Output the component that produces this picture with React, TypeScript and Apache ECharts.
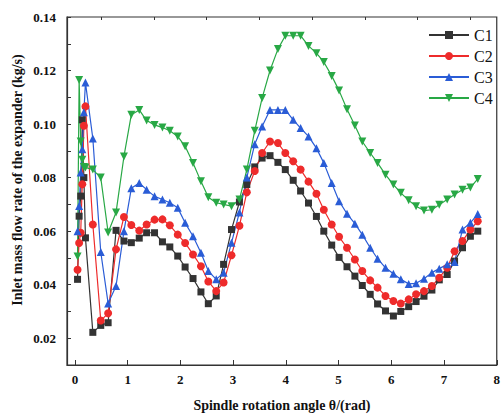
import React, { useEffect, useRef } from "react";
import * as echarts from "echarts";

// Spindle rotation angle θ (rad)
const angle = [
  0.05, 0.08, 0.11, 0.14, 0.17, 0.2, 0.34, 0.49, 0.63, 0.78, 0.93, 1.07, 1.22, 1.36, 1.51,
  1.66, 1.8, 1.95, 2.09, 2.24, 2.39, 2.53, 2.68, 2.82, 2.97, 3.12, 3.26, 3.41, 3.55, 3.7,
  3.85, 3.99, 4.14, 4.28, 4.43, 4.58, 4.72, 4.87, 5.01, 5.16, 5.31, 5.45, 5.6, 5.74, 5.89,
  6.04, 6.18, 6.33, 6.47, 6.62, 6.77, 6.91, 7.06, 7.2, 7.35, 7.5, 7.64,
];

const c1 = [
  0.042, 0.0656, 0.0731, 0.1016, 0.08, 0.0575, 0.0222, 0.0248, 0.0258, 0.0603, 0.0563, 0.0557,
  0.0574, 0.0594, 0.0594, 0.056, 0.0541, 0.0507, 0.0466, 0.0423, 0.0373, 0.0329, 0.0358, 0.0476,
  0.0606, 0.0709, 0.0774, 0.084, 0.0873, 0.0882, 0.0857, 0.083, 0.079, 0.075, 0.0705, 0.0655,
  0.06, 0.0548, 0.0502, 0.0467, 0.0432, 0.0397, 0.0364, 0.0328, 0.0302, 0.0283, 0.03, 0.0318,
  0.0337, 0.0357, 0.038, 0.0418, 0.0438, 0.0488, 0.0538, 0.0581, 0.06,
];

const c2 = [
  0.0456, 0.0556, 0.0594, 0.0775, 0.0994, 0.1066, 0.0625, 0.0266, 0.0293, 0.0532, 0.0653, 0.0623,
  0.0602, 0.0625, 0.0643, 0.0644, 0.0622, 0.0587, 0.0556, 0.0513, 0.0469, 0.0412, 0.0376, 0.0408,
  0.051, 0.062, 0.0745, 0.0825, 0.0892, 0.0935, 0.0929, 0.0892, 0.0861, 0.083, 0.0785, 0.074,
  0.068, 0.0625, 0.0579, 0.0538, 0.0494, 0.0451, 0.0416, 0.0389, 0.0358, 0.0339, 0.033, 0.0345,
  0.0364, 0.0376, 0.0395, 0.0426, 0.0463, 0.0525, 0.0563, 0.0606, 0.0637,
];

const c3 = [
  0.06, 0.0694, 0.0819, 0.0906, 0.1044, 0.1155, 0.0946, 0.0522, 0.033, 0.0395, 0.06, 0.076,
  0.078, 0.0755, 0.073, 0.0718, 0.0706, 0.0687, 0.0631, 0.0581, 0.0519, 0.0451, 0.042, 0.0445,
  0.0557, 0.067, 0.08, 0.0925, 0.0991, 0.1053, 0.1053, 0.1053, 0.1016, 0.0985, 0.0954, 0.091,
  0.0855, 0.078, 0.0712, 0.0665, 0.0628, 0.0587, 0.0538, 0.0497, 0.0463, 0.0441, 0.042, 0.0403,
  0.0405, 0.0422, 0.0445, 0.046, 0.0476, 0.0485, 0.0606, 0.0631, 0.0664,
];

const c4 = [
  0.0505, 0.1165, 0.0935, 0.0867, 0.084, 0.0838, 0.083, 0.08, 0.0595, 0.067, 0.0879, 0.1035,
  0.1053, 0.1013, 0.0997, 0.0987, 0.0975, 0.0954, 0.0917, 0.0855, 0.0786, 0.0727, 0.0706, 0.07,
  0.0693, 0.0718, 0.083, 0.0975, 0.1097, 0.12, 0.128, 0.133, 0.133, 0.133, 0.1292, 0.1265,
  0.1232, 0.118, 0.1125, 0.1055, 0.0995, 0.0935, 0.0892, 0.0855, 0.0811, 0.0774, 0.0743, 0.0715,
  0.0693, 0.0677, 0.068, 0.0699, 0.0718, 0.0737, 0.0755, 0.0763, 0.0795,
];

const seriesNames = ["C1", "C2", "C3", "C4"];
const xMajorTicks = [0, 1, 2, 3, 4, 5, 6, 7, 8];
const xMinorTicks = [0.5, 1.5, 2.5, 3.5, 4.5, 5.5, 6.5, 7.5];
const yMajorTicks = [0.02, 0.04, 0.06, 0.08, 0.1, 0.12, 0.14];
const yAllTicks = [0.02, 0.03, 0.04, 0.05, 0.06, 0.07, 0.08, 0.09, 0.1, 0.11, 0.12, 0.13, 0.14];

const FONT = "'Times New Roman', 'Liberation Serif', serif";

export default function App() {
  const ref = useRef<HTMLDivElement>(null);
  useEffect(() => {
    if (!ref.current) return;
    const chart = echarts.init(ref.current, undefined, { renderer: "svg" });
    const values = [c1, c2, c3, c4];
    const colors = ["#333333", "#ee2b2b", "#2a5cd6", "#28a845"];
    const symbols = ["rect", "circle", "triangle", "triangle"];
    const rotations = [0, 0, 0, 180];
    const sizes = [7, 8, 8, 8];
    const axisColor = "#333";
    chart.setOption({
      animation: false,
      backgroundColor: "#fff",
      grid: { left: 67, right: 4, top: 17, bottom: 54, show: true, borderColor: axisColor, borderWidth: 1.2, backgroundColor: "transparent" },
      legend: {
        orient: "vertical",
        left: 423,
        top: 22,
        itemWidth: 40,
        itemHeight: 10,
        itemGap: 5,
        data: seriesNames,
        textStyle: { fontFamily: FONT, fontSize: 16, color: "#111", lineHeight: 16 },
      },
      xAxis: [
        {
          type: "value",
          min: -0.15,
          max: 8,
          axisLine: { onZero: false, lineStyle: { color: axisColor, width: 1.2 } },
          axisTick: { inside: true, length: 5, customValues: xMajorTicks, lineStyle: { color: axisColor } },
          axisLabel: {
            customValues: xMajorTicks,
            fontFamily: FONT,
            fontWeight: "bold",
            fontSize: 13,
            color: "#111",
            margin: 8,
          },
          splitLine: { show: false },
          name: "Spindle rotation angle θ/(rad)",
          nameLocation: "middle",
          nameGap: 33,
          nameTextStyle: { fontFamily: FONT, fontWeight: "bold", fontSize: 14, color: "#111" },
        },
        {
          type: "value",
          min: -0.15,
          max: 8,
          axisLine: { show: false, onZero: false },
          axisTick: { inside: true, length: 3, customValues: xMinorTicks, lineStyle: { color: axisColor } },
          axisLabel: { show: false },
          splitLine: { show: false },
        },
      ],
      yAxis: [
        {
          type: "value",
          min: 0.01,
          max: 0.14,
          axisLine: { show: true, onZero: false, lineStyle: { color: axisColor, width: 1.2 } },
          axisTick: { show: true, inside: true, length: 4, customValues: yAllTicks, lineStyle: { color: axisColor } },
          axisLabel: {
            customValues: yMajorTicks,
            formatter: (v: number) => v.toFixed(2),
            fontFamily: FONT,
            fontWeight: "bold",
            fontSize: 13,
            color: "#111",
            margin: 11,
          },
          splitLine: { show: false },
        },
      ],
      graphic: [
        {
          type: "text",
          x: 17,
          y: 180,
          rotation: Math.PI / 2,
          style: {
            text: "Inlet mass flow rate of the expander (kg/s)",
            fontFamily: FONT,
            fontWeight: "bold",
            fontSize: 14,
            fill: "#111",
            align: "center",
            verticalAlign: "middle",
          },
        },
      ],
      series: values.map((vals, s) => ({
        name: seriesNames[s],
        type: "line",
        xAxisIndex: 0,
        yAxisIndex: 0,
        data: angle.map((a, i) => [a, vals[i]]),
        symbol: symbols[s],
        symbolSize: sizes[s],
        symbolRotate: rotations[s],
        showAllSymbol: true,
        color: colors[s],
        lineStyle: { width: 1.2, color: colors[s] },
        itemStyle: { color: colors[s] },
      })),
    });
    return () => chart.dispose();
  }, []);
  return (
    <div
      ref={ref}
      style={{ position: "fixed", left: 0, top: 0, width: 503, height: 419, background: "#fff" }}
    />
  );
}
